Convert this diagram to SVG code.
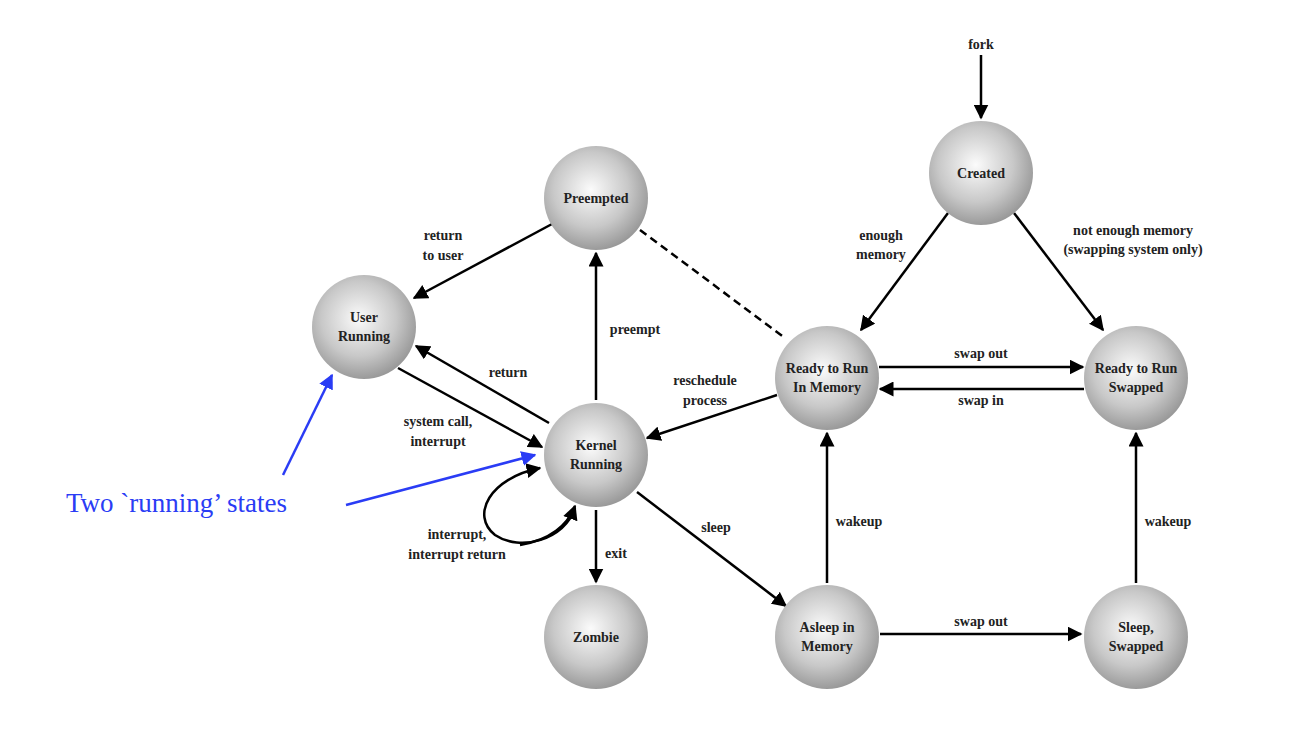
<svg xmlns="http://www.w3.org/2000/svg" width="1290" height="734" viewBox="0 0 1290 734">
<style>
.n{fill:url(#g)}
.t{font-family:"Liberation Serif",serif;font-weight:bold;font-size:14px;fill:#222;text-anchor:middle}
.e{stroke:#000;stroke-width:2.5;fill:none;marker-end:url(#a)}
.b{stroke:#2a3cf5;stroke-width:2.5;fill:none;marker-end:url(#ab)}
</style>
<defs>
<radialGradient id="g" cx="0.45" cy="0.42" r="0.6">
<stop offset="0" stop-color="#fbfbfb"/><stop offset="0.6" stop-color="#c8c8c8"/><stop offset="1" stop-color="#969696"/>
</radialGradient>
<marker id="a" viewBox="0 0 10 10" refX="9" refY="5" markerWidth="6" markerHeight="6" markerUnits="strokeWidth" orient="auto"><path d="M0,0 L10,5 L0,10 Z" fill="#000"/></marker>
<marker id="ab" viewBox="0 0 10 10" refX="9" refY="5" markerWidth="6" markerHeight="6" markerUnits="strokeWidth" orient="auto"><path d="M0,0 L10,5 L0,10 Z" fill="#2a3cf5"/></marker>
</defs>
<rect width="1290" height="734" fill="#fff"/>
<g id="connectors">
<path class="e" d="M981,55 V118"/>
<path class="e" d="M948,213 L861,330"/>
<path class="e" d="M1014,213 L1103,330"/>
<path class="e" d="M879,367 H1083"/>
<path class="e" d="M1084,389 H880"/>
<path class="e" d="M552,224 L414,298"/>
<path class="e" d="M596,400 V253"/>
<path d="M640,230 L785,338" stroke="#000" stroke-width="2.5" fill="none" stroke-dasharray="8,5"/>
<path class="e" d="M777,395 L647,438"/>
<path class="e" d="M549,423 L416,346"/>
<path class="e" d="M398,368 L542,447"/>
<path class="e" d="M575,508 C565,540 520,552 495,535 C470,515 490,478 540,468"/>
<path class="e" d="M520,545 C550,540 568,525 575,506" marker-end="none"/>
<path class="e" d="M596,510 V582"/>
<path class="e" d="M637,492 L786,606"/>
<path class="e" d="M827,583 V433"/>
<path class="e" d="M880,634 H1081"/>
<path class="e" d="M1136,583 V433"/>
<path class="b" d="M283,475 L332,375"/>
<path class="b" d="M346,505 L535,455"/>
</g>
<g id="created"><circle class="n" cx="981" cy="173" r="52"/><text class="t" x="981" y="178">Created</text></g>
<g id="preempted"><circle class="n" cx="596" cy="198" r="52"/><text class="t" x="596" y="203">Preempted</text></g>
<g id="user"><circle class="n" cx="364" cy="327" r="52"/><text class="t" x="364" y="322">User</text><text class="t" x="364" y="341">Running</text></g>
<g id="kernel"><circle class="n" cx="596" cy="455" r="52"/><text class="t" x="596" y="450">Kernel</text><text class="t" x="596" y="469">Running</text></g>
<g id="readymem"><circle class="n" cx="827" cy="378" r="52"/><text class="t" x="827" y="373">Ready to Run</text><text class="t" x="827" y="392">In Memory</text></g>
<g id="readyswap"><circle class="n" cx="1136" cy="378" r="52"/><text class="t" x="1136" y="373">Ready to Run</text><text class="t" x="1136" y="392">Swapped</text></g>
<g id="zombie"><circle class="n" cx="596" cy="637" r="52"/><text class="t" x="596" y="642">Zombie</text></g>
<g id="asleep"><circle class="n" cx="827" cy="637" r="52"/><text class="t" x="827" y="632">Asleep in</text><text class="t" x="827" y="651">Memory</text></g>
<g id="sleepswap"><circle class="n" cx="1136" cy="637" r="52"/><text class="t" x="1136" y="632">Sleep,</text><text class="t" x="1136" y="651">Swapped</text></g>
<g id="labels">
<text class="t" x="981" y="49">fork</text>
<text class="t" x="881" y="240">enough</text><text class="t" x="881" y="259">memory</text>
<text class="t" x="1133" y="235">not enough memory</text><text class="t" x="1133" y="254">(swapping system only)</text>
<text class="t" x="981" y="358">swap out</text>
<text class="t" x="981" y="405">swap in</text>
<text class="t" x="443" y="240">return</text><text class="t" x="443" y="260">to user</text>
<text class="t" x="635" y="334">preempt</text>
<text class="t" x="705" y="385">reschedule</text><text class="t" x="705" y="405">process</text>
<text class="t" x="508" y="377">return</text>
<text class="t" x="438" y="426">system call,</text><text class="t" x="438" y="446">interrupt</text>
<text class="t" x="457" y="539">interrupt,</text><text class="t" x="457" y="559">interrupt return</text>
<text class="t" x="616" y="558">exit</text>
<text class="t" x="716" y="532">sleep</text>
<text class="t" x="859" y="526">wakeup</text>
<text class="t" x="1168" y="526">wakeup</text>
<text class="t" x="981" y="626">swap out</text>
<text x="66" y="512" font-family="Liberation Serif,serif" font-size="27" fill="#2a3cf5">Two `running’ states</text>
</g>
</svg>
